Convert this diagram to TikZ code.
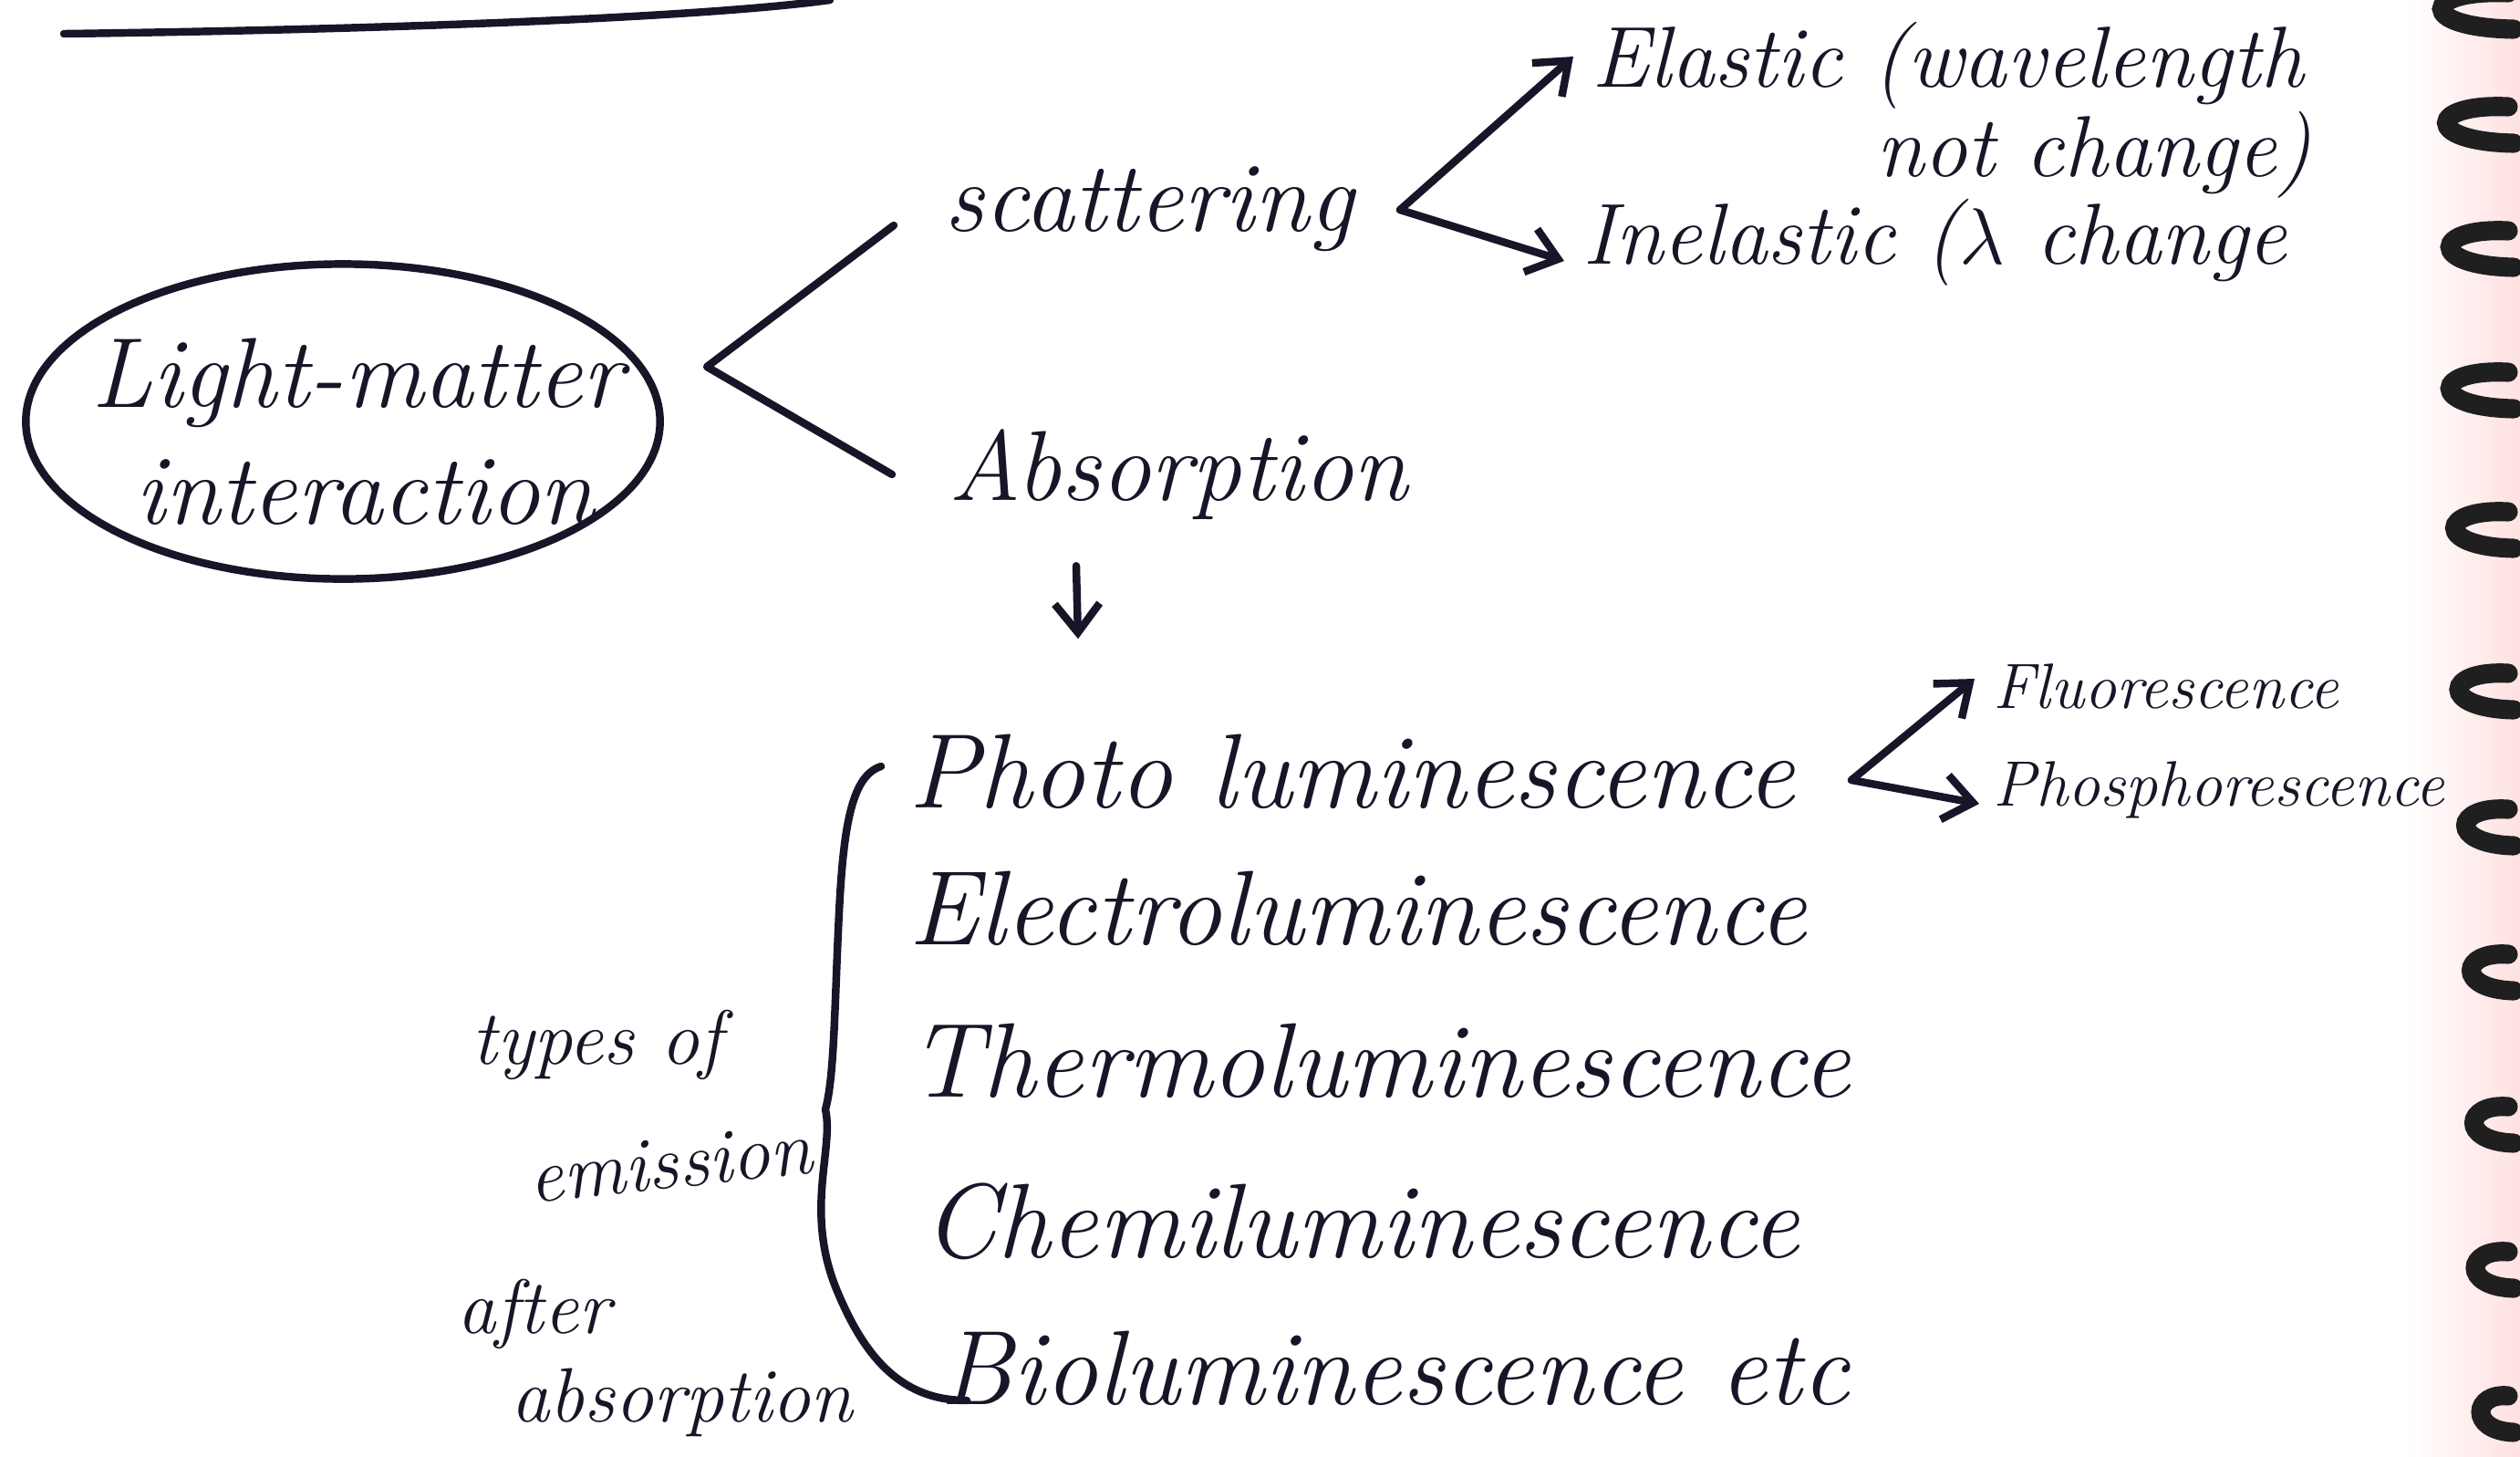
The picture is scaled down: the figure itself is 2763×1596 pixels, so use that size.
\documentclass[tikz,border=0pt]{standalone}
\usetikzlibrary{arrows.meta,shapes.geometric,calc}
\definecolor{inkc}{RGB}{22,22,40}
\tikzset{
  ink/.style={draw=inkc, line width=2.4pt, line cap=round, line join=round},
  hand/.style={font=\fontsize{31}{38}\selectfont\itshape, text=inkc, inner sep=0pt},
  listtext/.style={font=\fontsize{33}{38}\selectfont\itshape, text=inkc, inner sep=0pt},
  small/.style={font=\fontsize{27}{32}\selectfont\itshape, text=inkc, inner sep=0pt},
  tiny/.style={font=\fontsize{20}{24}\selectfont\itshape, text=inkc, inner sep=0pt},
  side/.style={font=\fontsize{24}{28}\selectfont\itshape, text=inkc, inner sep=0pt},
  arr/.style={ink, -{Straight Barb[length=9pt,width=14pt]}},
  ring/.style={line width=6pt, draw=black!88, line cap=round},
}
\begin{document}
\begin{tikzpicture}[x=0.01cm,y=-0.01cm]
\useasboundingbox (0,0) rectangle (2763,1596);
\shade[left color=white, right color=red!12!white] (2640,0) rectangle (2763,1596);

% top underline
\draw[ink] (70,37) .. controls (450,32) and (780,18) .. (910,0);

% root ellipse
\node[ellipse, ink, inner sep=0pt, minimum width=6.95cm, minimum height=3.45cm] (lm) at (376,462) {};
\node[hand] (lmt1) at (392,420) {Light-matter};
\node[hand] (lmt2) at (400,540) {interaction};

% scattering / absorption
\node[hand, anchor=west] (scat) at (1035,229) {scattering};
\node[hand, anchor=west] (absn) at (1040,520) {Absorption};
\coordinate (apex1) at (775,402);
\draw[ink] ($(scat.west)+(-55,18)$) -- (apex1) -- ($(absn.west)+(-62,0)$);

% elastic / inelastic
\node[small, anchor=west] (elastic) at (1745,72) {Elastic (wavelength};
\node[small, anchor=east] (notch) at (2535,170) {not change)};
\node[small, anchor=west] (inelastic) at (1735,266) {Inelastic ($\lambda$ change};
\coordinate (apex2) at (1535,230);
\draw[arr] (apex2) -- ($(elastic.west)+(-20,-10)$);
\draw[arr] (apex2) -- ($(inelastic.west)+(-20,20)$);

% absorption arrow
\draw[arr] ($(absn.south west)+(140,50)$) -- ++(2,80) coordinate (adown);

% emission list
\node[listtext, anchor=west] (photo) at (996,846) {Photo luminescence};
\node[listtext, anchor=west] (electro) at (996,996) {Electroluminescence};
\node[listtext, anchor=west] (thermo) at (996,1163) {Thermoluminescence};
\node[listtext, anchor=west] (chemi) at (1012,1339) {Chemiluminescence};
\node[listtext, anchor=west] (bio) at (1030,1500) {Bioluminescence etc};

% brace
\coordinate (bt) at (966,840);
\coordinate (bm) at (905,1216);
\coordinate (bb) at (1060,1535);
\draw[ink] (bt) .. controls (935,850) and (925,900) .. (920,1000)
  .. controls (915,1100) and (915,1180) .. (bm)
  .. controls (915,1260) and (880,1330) .. (920,1420)
  .. controls (950,1490) and (990,1535) .. (bb);

% fluorescence / phosphorescence
\node[tiny, anchor=west] (fluor) at (2185,752) {Fluorescence};
\node[tiny, anchor=west] (phos) at (2185,866) {Phosphorescence};
\coordinate (apex3) at (2030,855);
\draw[arr] (apex3) -- ($(fluor.west)+(-20,-8)$);
\draw[arr] (apex3) -- ($(phos.west)+(-15,15)$);

% side note
\node[side] (typesof) at (655,1145) {types of};
\node[side, rotate=6] (emis) at (735,1275) {emission};
\node[side] (after) at (585,1440) {after};
\node[side] (absorp) at (748,1537) {absorption};

% spiral binding rings
\foreach \yy/\xl in {12/2655,137/2662,273/2667,428/2667,581/2674,758/2680,907/2690,1066/2698,1233/2702,1392/2704,1550/2712}{
  \draw[ring] (2750,\yy-20) .. controls (\xl,\yy-24) and (\xl-6,\yy+18) .. (2756,\yy+20);
}
\end{tikzpicture}
\end{document}
